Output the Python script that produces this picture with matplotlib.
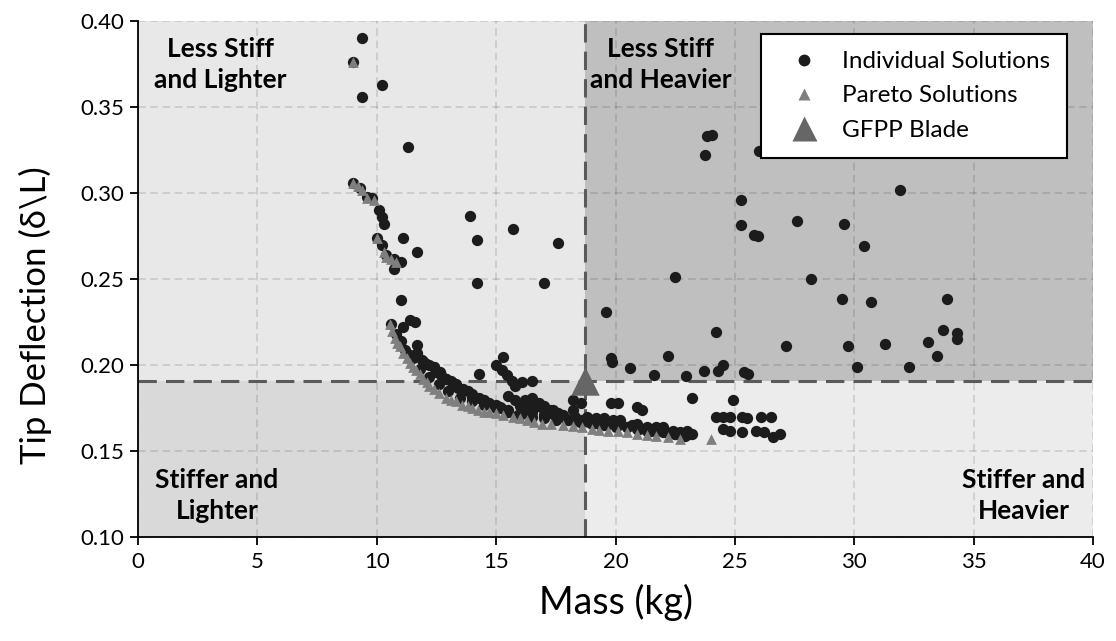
import matplotlib
matplotlib.use("Agg")
import matplotlib.pyplot as plt
from matplotlib.lines import Line2D

plt.rcParams['font.family'] = ['Lato', 'DejaVu Sans']

# ---------- data ----------
# individual solutions (black dots)
indiv_mass = [
    9.0, 9.4, 9.4, 10.2, 11.3,
    9.0, 9.3, 9.6, 9.8, 10.1, 10.2, 10.3,
    10.0, 10.2, 10.4, 10.7, 10.7, 11.0, 11.1, 11.7,
    11.0, 13.9, 14.2, 15.7, 17.6, 14.2, 17.0,
    10.6, 11.1, 11.4, 11.6, 11.7, 10.8, 11.0,
    11.2, 11.4, 11.5, 11.7, 11.9, 12.0, 12.2, 12.4, 12.5, 12.7, 12.9, 13.1,
    13.3, 13.4, 13.6, 13.8, 14.0, 14.3, 14.5, 14.7, 15.0, 15.2, 15.5, 15.9,
    16.3, 16.5, 17.0, 17.3, 17.5, 17.8, 18.2, 18.0, 18.4, 18.8, 19.2, 19.5,
    19.9, 20.2, 20.7, 20.9, 21.3, 21.7, 22.0, 22.4, 22.7, 23.0, 23.2,
    11.8, 12.2, 12.6, 13.0, 13.5, 14.0, 14.5, 15.0, 15.5, 16.0, 16.5, 17.0,
    17.5, 18.5, 19.0, 19.5, 20.0, 20.5, 21.0, 21.5, 22.0, 22.5,
    12.4, 12.65, 12.9, 13.2, 13.6, 14.0, 14.45, 15.15,
    15.5, 15.8, 16.0, 16.4, 16.7, 17.0, 17.3, 17.6, 17.9, 18.3, 18.6, 18.9,
    19.3, 19.7, 20.1, 20.5, 20.9, 21.3, 21.7, 22.1, 22.5, 22.9, 23.1,
    14.3, 15.3, 15.0, 15.25, 15.45, 15.65, 15.8, 16.1, 16.5, 16.2, 16.5, 17.0,
    17.4, 18.55, 18.2, 19.8, 20.1, 20.9, 21.1, 23.2, 24.9, 16.8, 16.55,
    24.2, 24.5, 24.8, 25.3, 25.5, 26.1, 26.5,
    24.5, 24.8, 25.3, 25.9, 26.2, 26.6, 26.9,
    19.6, 19.8, 19.85, 20.6, 21.6, 22.2, 22.95, 23.7, 24.3, 24.5, 25.4, 25.55,
    24.2, 23.85, 24.04, 23.74, 26.0, 25.25, 25.25, 25.8, 25.95, 27.6, 29.55,
    31.9, 30.4, 22.5, 28.2, 29.5, 30.7, 33.9, 33.7, 34.3, 34.3, 27.15, 29.75,
    31.3, 33.1, 33.45, 30.1, 32.3,
]
indiv_defl = [
    0.376, 0.390, 0.356, 0.363, 0.327,
    0.306, 0.303, 0.298, 0.297, 0.290, 0.286, 0.282,
    0.274, 0.270, 0.264, 0.262, 0.256, 0.260, 0.274, 0.266,
    0.238, 0.287, 0.273, 0.279, 0.271, 0.248, 0.248,
    0.224, 0.222, 0.226, 0.225, 0.212, 0.218, 0.214,
    0.209, 0.206, 0.204, 0.207, 0.203, 0.201, 0.200, 0.199, 0.196, 0.194, 0.192, 0.191,
    0.189, 0.187, 0.186, 0.185, 0.183, 0.181, 0.180, 0.178, 0.177, 0.175, 0.174, 0.171,
    0.172, 0.173, 0.171, 0.174, 0.170, 0.171, 0.174, 0.168, 0.168, 0.170, 0.169, 0.169,
    0.168, 0.168, 0.165, 0.166, 0.164, 0.164, 0.164, 0.162, 0.161, 0.162, 0.160,
    0.198, 0.193, 0.189, 0.185, 0.181, 0.179, 0.177, 0.175, 0.173, 0.171, 0.170, 0.169,
    0.168, 0.167, 0.166, 0.165, 0.164, 0.164, 0.163, 0.162, 0.161, 0.160,
    0.199, 0.196, 0.192, 0.1895, 0.1855, 0.1815, 0.180, 0.1756,
    0.182, 0.180, 0.176, 0.175, 0.176, 0.174, 0.172, 0.172, 0.169, 0.170, 0.168, 0.167,
    0.166, 0.166, 0.165, 0.164, 0.163, 0.162, 0.162, 0.161, 0.160, 0.159, 0.160,
    0.195, 0.205, 0.200, 0.197, 0.194, 0.191, 0.188, 0.190, 0.191, 0.180, 0.181, 0.176,
    0.174, 0.178, 0.180, 0.178, 0.178, 0.1755, 0.174, 0.181, 0.180, 0.178, 0.177,
    0.170, 0.170, 0.170, 0.170, 0.169, 0.170, 0.170,
    0.163, 0.162, 0.161, 0.162, 0.161, 0.158, 0.160,
    0.231, 0.204, 0.202, 0.1985, 0.194, 0.2053, 0.1938, 0.1965, 0.1965, 0.200, 0.196, 0.195,
    0.219, 0.333, 0.3337, 0.3224, 0.3244, 0.2962, 0.2812, 0.2758, 0.2748, 0.2839, 0.2822,
    0.302, 0.269, 0.2515, 0.250, 0.2383, 0.2369, 0.2383, 0.2204, 0.2189, 0.215, 0.2111, 0.2111,
    0.2122, 0.2132, 0.2054, 0.1988, 0.1988,
]

# pareto solutions (small grey triangles)
pareto_mass = [
    9.0, 9.0, 9.2, 9.4, 9.6, 9.9,
    10.0, 10.3, 10.4, 10.6, 10.8,
    10.55, 10.65, 10.75, 10.85, 10.97, 11.1, 11.25, 11.4, 11.5, 11.65, 11.8, 11.95,
    12.1, 12.2, 12.4, 12.6, 12.9, 13.1, 13.3, 13.55, 13.8, 14.0, 14.25, 14.5, 14.7,
    15.0, 15.3, 15.7, 16.0, 16.3, 16.6, 16.9, 17.3, 17.8, 18.2, 18.6, 19.0, 19.3,
    19.7, 20.1, 20.5, 20.9, 21.3, 21.7, 22.2, 22.7, 24.0,
]
pareto_defl = [
    0.376, 0.306, 0.304, 0.302, 0.297, 0.296,
    0.274, 0.266, 0.263, 0.262, 0.260,
    0.224, 0.220, 0.216, 0.213, 0.211, 0.207, 0.204, 0.201, 0.199, 0.197, 0.195, 0.192,
    0.190, 0.188, 0.186, 0.184, 0.181, 0.180, 0.179, 0.177, 0.176, 0.175, 0.174, 0.173, 0.173,
    0.172, 0.171, 0.170, 0.169, 0.168, 0.167, 0.166, 0.1655, 0.165, 0.1645, 0.164, 0.163, 0.1625,
    0.162, 0.1615, 0.161, 0.160, 0.1595, 0.159, 0.158, 0.157, 0.157,
]

# baseline blade
gfpp_mass = 18.72
gfpp_defl = 0.1905

x_min, x_max = 0, 40
y_min, y_max = 0.10, 0.40

# ---------- figure ----------
fig = plt.figure(figsize=(11.16, 6.41), dpi=100)
ax = fig.add_axes([0.1237, 0.162, 0.8557, 0.805])

# quadrant shading
ax.fill_between([x_min, gfpp_mass], gfpp_defl, y_max, color='#e8e8e8', lw=0, zorder=0)
ax.fill_between([gfpp_mass, x_max], gfpp_defl, y_max, color='#bfbfbf', lw=0, zorder=0)
ax.fill_between([x_min, gfpp_mass], y_min, gfpp_defl, color='#d9d9d9', lw=0, zorder=0)
ax.fill_between([gfpp_mass, x_max], y_min, gfpp_defl, color='#ececec', lw=0, zorder=0)

ax.set_xlim(x_min, x_max)
ax.set_ylim(y_min, y_max)
ax.set_xticks(range(0, 41, 5))
ax.set_yticks([0.10, 0.15, 0.20, 0.25, 0.30, 0.35, 0.40])
ax.set_yticklabels(['%.2f' % v for v in ax.get_yticks()])
ax.grid(True, color='black', alpha=0.15, linestyle=(0, (5, 3)), linewidth=1.1, zorder=1)
ax.set_axisbelow(True)

# dividing lines through the baseline blade
ax.axvline(gfpp_mass, color='#5a5a5a', lw=2.2, ls=(0, (6, 3)), zorder=2)
ax.axhline(gfpp_defl, color='#5a5a5a', lw=2.2, ls=(0, (6, 3)), zorder=2)

ax.scatter(indiv_mass, indiv_defl, s=66, marker='o', color='#1c1c1c', lw=0, zorder=3)
ax.scatter(pareto_mass, pareto_defl, s=60, marker='^', color='#7f7f7f', lw=0, zorder=4)
ax.scatter([gfpp_mass], [gfpp_defl], s=420, marker='^', color='#666666', lw=0, zorder=5)

# quadrant labels
lab = dict(ha='center', va='center', fontsize=19, fontweight='bold', linespacing=1.35, zorder=6)
ax.text(3.45, 0.375, 'Less Stiff\nand Lighter', **lab)
ax.text(21.9, 0.375, 'Less Stiff\nand Heavier', **lab)
ax.text(3.3, 0.124, 'Stiffer and\nLighter', **lab)
ax.text(37.1, 0.124, 'Stiffer and\nHeavier', **lab)

for s in ['top', 'right']:
    ax.spines[s].set_visible(False)
for s in ['left', 'bottom']:
    ax.spines[s].set_linewidth(1.3)
ax.tick_params(direction='out', length=6, width=1.3, labelsize=16)
ax.tick_params(axis='x', pad=5)
ax.tick_params(axis='y', pad=4)

ax.set_xlabel('Mass (kg)', fontsize=27, labelpad=8)
ax.set_ylabel('Tip Deflection (δ\\L)', fontsize=25)
ax.yaxis.set_label_coords(-0.09, 0.43)

handles = [
    Line2D([], [], ls='none', marker='o', ms=8.5, color='#1c1c1c', mec='none'),
    Line2D([], [], ls='none', marker='^', ms=9, color='#7f7f7f', mec='none'),
    Line2D([], [], ls='none', marker='^', ms=18, color='#666666', mec='none'),
]
leg = ax.legend(handles, ['Individual Solutions', 'Pareto Solutions', 'GFPP Blade'],
                loc='upper right', bbox_to_anchor=(0.973, 0.975), borderaxespad=0,
                fontsize=17.5, frameon=True, fancybox=False, framealpha=1,
                edgecolor='black', handletextpad=0.45, labelspacing=0.55,
                borderpad=0.7, handlelength=2.2)
leg.get_frame().set_linewidth(1.5)
leg.set_zorder(7)

fig.savefig('out.png', dpi=100)
